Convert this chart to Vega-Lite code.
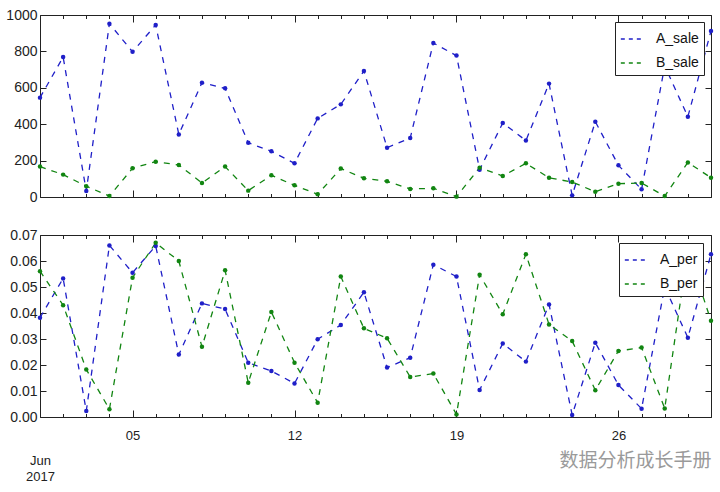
{
  "$schema": "https://vega.github.io/schema/vega-lite/v6.json",
  "padding": {"left": 5, "top": 7, "right": 8, "bottom": 4},
  "background": "white",
  "datasets": {
    "daily": [
      {"date": "2017-06-01", "A_sale": 546, "B_sale": 167, "A_per": 0.0382, "B_per": 0.0561},
      {"date": "2017-06-02", "A_sale": 769, "B_sale": 123, "A_per": 0.0533, "B_per": 0.0430},
      {"date": "2017-06-03", "A_sale": 33, "B_sale": 59, "A_per": 0.0023, "B_per": 0.0183},
      {"date": "2017-06-04", "A_sale": 952, "B_sale": 5, "A_per": 0.0660, "B_per": 0.0030},
      {"date": "2017-06-05", "A_sale": 798, "B_sale": 158, "A_per": 0.0555, "B_per": 0.0536},
      {"date": "2017-06-06", "A_sale": 945, "B_sale": 194, "A_per": 0.0658, "B_per": 0.0670},
      {"date": "2017-06-07", "A_sale": 344, "B_sale": 176, "A_per": 0.0240, "B_per": 0.0600},
      {"date": "2017-06-08", "A_sale": 628, "B_sale": 77, "A_per": 0.0437, "B_per": 0.0270},
      {"date": "2017-06-09", "A_sale": 597, "B_sale": 167, "A_per": 0.0415, "B_per": 0.0564},
      {"date": "2017-06-10", "A_sale": 298, "B_sale": 35, "A_per": 0.0209, "B_per": 0.0132},
      {"date": "2017-06-11", "A_sale": 251, "B_sale": 119, "A_per": 0.0177, "B_per": 0.0404},
      {"date": "2017-06-12", "A_sale": 185, "B_sale": 64, "A_per": 0.0129, "B_per": 0.0209},
      {"date": "2017-06-13", "A_sale": 432, "B_sale": 15, "A_per": 0.0299, "B_per": 0.0055},
      {"date": "2017-06-14", "A_sale": 509, "B_sale": 156, "A_per": 0.0354, "B_per": 0.0540},
      {"date": "2017-06-15", "A_sale": 692, "B_sale": 103, "A_per": 0.0480, "B_per": 0.0341},
      {"date": "2017-06-16", "A_sale": 271, "B_sale": 86, "A_per": 0.0190, "B_per": 0.0303},
      {"date": "2017-06-17", "A_sale": 324, "B_sale": 44, "A_per": 0.0228, "B_per": 0.0154},
      {"date": "2017-06-18", "A_sale": 846, "B_sale": 48, "A_per": 0.0586, "B_per": 0.0167},
      {"date": "2017-06-19", "A_sale": 777, "B_sale": 2, "A_per": 0.0540, "B_per": 0.0010},
      {"date": "2017-06-20", "A_sale": 150, "B_sale": 161, "A_per": 0.0104, "B_per": 0.0547},
      {"date": "2017-06-21", "A_sale": 407, "B_sale": 115, "A_per": 0.0283, "B_per": 0.0395},
      {"date": "2017-06-22", "A_sale": 310, "B_sale": 185, "A_per": 0.0213, "B_per": 0.0626},
      {"date": "2017-06-23", "A_sale": 623, "B_sale": 106, "A_per": 0.0433, "B_per": 0.0356},
      {"date": "2017-06-24", "A_sale": 9, "B_sale": 82, "A_per": 0.0008, "B_per": 0.0292},
      {"date": "2017-06-25", "A_sale": 414, "B_sale": 29, "A_per": 0.0286, "B_per": 0.0103},
      {"date": "2017-06-26", "A_sale": 174, "B_sale": 73, "A_per": 0.0123, "B_per": 0.0254},
      {"date": "2017-06-27", "A_sale": 42, "B_sale": 77, "A_per": 0.0032, "B_per": 0.0267},
      {"date": "2017-06-28", "A_sale": 720, "B_sale": 5, "A_per": 0.0500, "B_per": 0.0033},
      {"date": "2017-06-29", "A_sale": 441, "B_sale": 190, "A_per": 0.0305, "B_per": 0.0640},
      {"date": "2017-06-30", "A_sale": 912, "B_sale": 106, "A_per": 0.0626, "B_per": 0.0370}
    ]
  },
  "data": {"name": "daily"},
  "spacing": 22,
  "resolve": {"scale": {"color": "independent", "x": "independent", "y": "independent"}, "legend": {"color": "independent"}},
  "vconcat": [
    {
      "width": 671,
      "height": 182,
      "transform": [{"fold": ["A_sale", "B_sale"], "as": ["series", "value"]}],
      "layer": [
        {
          "mark": {"type": "line", "strokeDash": [6, 6], "strokeWidth": 1.3},
          "encoding": {
            "x": {"field": "date", "type": "temporal",
              "scale": {"type": "utc", "domain": [{"year": 2017, "month": 6, "date": 1, "utc": true}, {"year": 2017, "month": 6, "date": 30, "utc": true}]},
              "axis": {"orient": "bottom", "labels": false, "title": null, "tickCount": {"interval": "day", "step": 1},
                "tickSize": {"condition": {"test": "utcdate(datum.value) % 7 == 5", "value": -7}, "value": -3.5}}},
            "y": {"field": "value", "type": "quantitative", "scale": {"domain": [0, 1000], "nice": false},
              "axis": {"orient": "left", "title": null, "values": [0, 200, 400, 600, 800, 1000], "format": "d", "tickSize": -6, "labelPadding": 9, "labelFontSize": 14}},
            "color": {"field": "series", "type": "nominal",
              "scale": {"domain": ["A_sale", "B_sale"], "range": ["#1f1fc8", "#118511"]},
              "legend": {"orient": "top-right", "offset": 7, "title": null}}
          }
        },
        {
          "mark": {"type": "point", "filled": true, "size": 20, "opacity": 1},
          "encoding": {
            "x": {"field": "date", "type": "temporal",
              "scale": {"type": "utc", "domain": [{"year": 2017, "month": 6, "date": 1, "utc": true}, {"year": 2017, "month": 6, "date": 30, "utc": true}]},
              "axis": {"orient": "top", "labels": false, "title": null, "tickCount": {"interval": "day", "step": 1},
                "tickSize": {"condition": {"test": "utcdate(datum.value) % 7 == 5", "value": -7}, "value": -3.5}}},
            "y": {"field": "value", "type": "quantitative", "scale": {"domain": [0, 1000], "nice": false},
              "axis": {"orient": "right", "labels": false, "title": null, "values": [0, 200, 400, 600, 800, 1000], "tickSize": -6}},
            "color": {"field": "series", "type": "nominal",
              "scale": {"domain": ["A_sale", "B_sale"], "range": ["#1f1fc8", "#118511"]},
              "legend": null}
          }
        }
      ],
      "resolve": {"axis": {"x": "independent", "y": "independent"}}
    },
    {
      "width": 671,
      "height": 182,
      "transform": [{"fold": ["A_per", "B_per"], "as": ["series", "value"]}],
      "layer": [
        {
          "mark": {"type": "line", "strokeDash": [6, 6], "strokeWidth": 1.3},
          "encoding": {
            "x": {"field": "date", "type": "temporal",
              "scale": {"type": "utc", "domain": [{"year": 2017, "month": 6, "date": 1, "utc": true}, {"year": 2017, "month": 6, "date": 30, "utc": true}]},
              "axis": {"orient": "bottom", "tickCount": {"interval": "day", "step": 1},
                "labelExpr": "utcdate(datum.value) % 7 == 5 ? utcFormat(datum.value, '%d') : ''",
                "labelOverlap": false, "labelFlush": false, "labelPadding": 19,
                "tickSize": {"condition": {"test": "utcdate(datum.value) % 7 == 5", "value": -7}, "value": -3.5},
                "title": ["Jun", "2017"], "titleX": 0, "titleY": 37, "titleAlign": "center", "titleBaseline": "top",
                "titleFont": "Liberation Sans", "titleFontSize": 13, "titleFontWeight": "normal", "titleLineHeight": 16, "titleColor": "#222"}},
            "y": {"field": "value", "type": "quantitative", "scale": {"domain": [0, 0.07], "nice": false},
              "axis": {"orient": "left", "title": null, "values": [0, 0.01, 0.02, 0.03, 0.04, 0.05, 0.06, 0.07], "format": ".2f", "tickSize": -6, "labelPadding": 9, "labelFontSize": 14}},
            "color": {"field": "series", "type": "nominal",
              "scale": {"domain": ["A_per", "B_per"], "range": ["#1f1fc8", "#118511"]},
              "legend": {"orient": "top-right", "offset": 8, "title": null}}
          }
        },
        {
          "mark": {"type": "point", "filled": true, "size": 20, "opacity": 1},
          "encoding": {
            "x": {"field": "date", "type": "temporal",
              "scale": {"type": "utc", "domain": [{"year": 2017, "month": 6, "date": 1, "utc": true}, {"year": 2017, "month": 6, "date": 30, "utc": true}]},
              "axis": {"orient": "top", "labels": false, "tickCount": {"interval": "day", "step": 1},
                "tickSize": {"condition": {"test": "utcdate(datum.value) % 7 == 5", "value": -7}, "value": -3.5},
                "title": "数据分析成长手册", "titleX": 671, "titleY": 225, "titleAlign": "right", "titleBaseline": "middle",
                "titleFont": "Noto Sans CJK SC", "titleFontSize": 19, "titleFontWeight": "normal", "titleColor": "#9a9a9a"}},
            "y": {"field": "value", "type": "quantitative", "scale": {"domain": [0, 0.07], "nice": false},
              "axis": {"orient": "right", "labels": false, "title": null, "values": [0, 0.01, 0.02, 0.03, 0.04, 0.05, 0.06, 0.07], "tickSize": -6}},
            "color": {"field": "series", "type": "nominal",
              "scale": {"domain": ["A_per", "B_per"], "range": ["#1f1fc8", "#118511"]},
              "legend": null}
          }
        }
      ],
      "resolve": {"axis": {"x": "independent", "y": "independent"}}
    }
  ],
  "config": {
    "view": {"stroke": "#222222", "strokeWidth": 1},
    "axis": {"grid": false, "domain": false, "labelFont": "Liberation Sans", "labelFontSize": 13, "labelColor": "#222222", "tickColor": "#222222", "tickWidth": 1},
    "legend": {
      "strokeColor": "#222222", "fillColor": "white", "padding": 5, "cornerRadius": 0,
      "labelFont": "Liberation Sans", "labelFontSize": 14, "labelColor": "#111111",
      "symbolType": "stroke", "symbolDash": [4, 4], "symbolStrokeWidth": 1.5, "symbolSize": 500,
      "rowPadding": 5, "labelOffset": 12
    }
  }
}
